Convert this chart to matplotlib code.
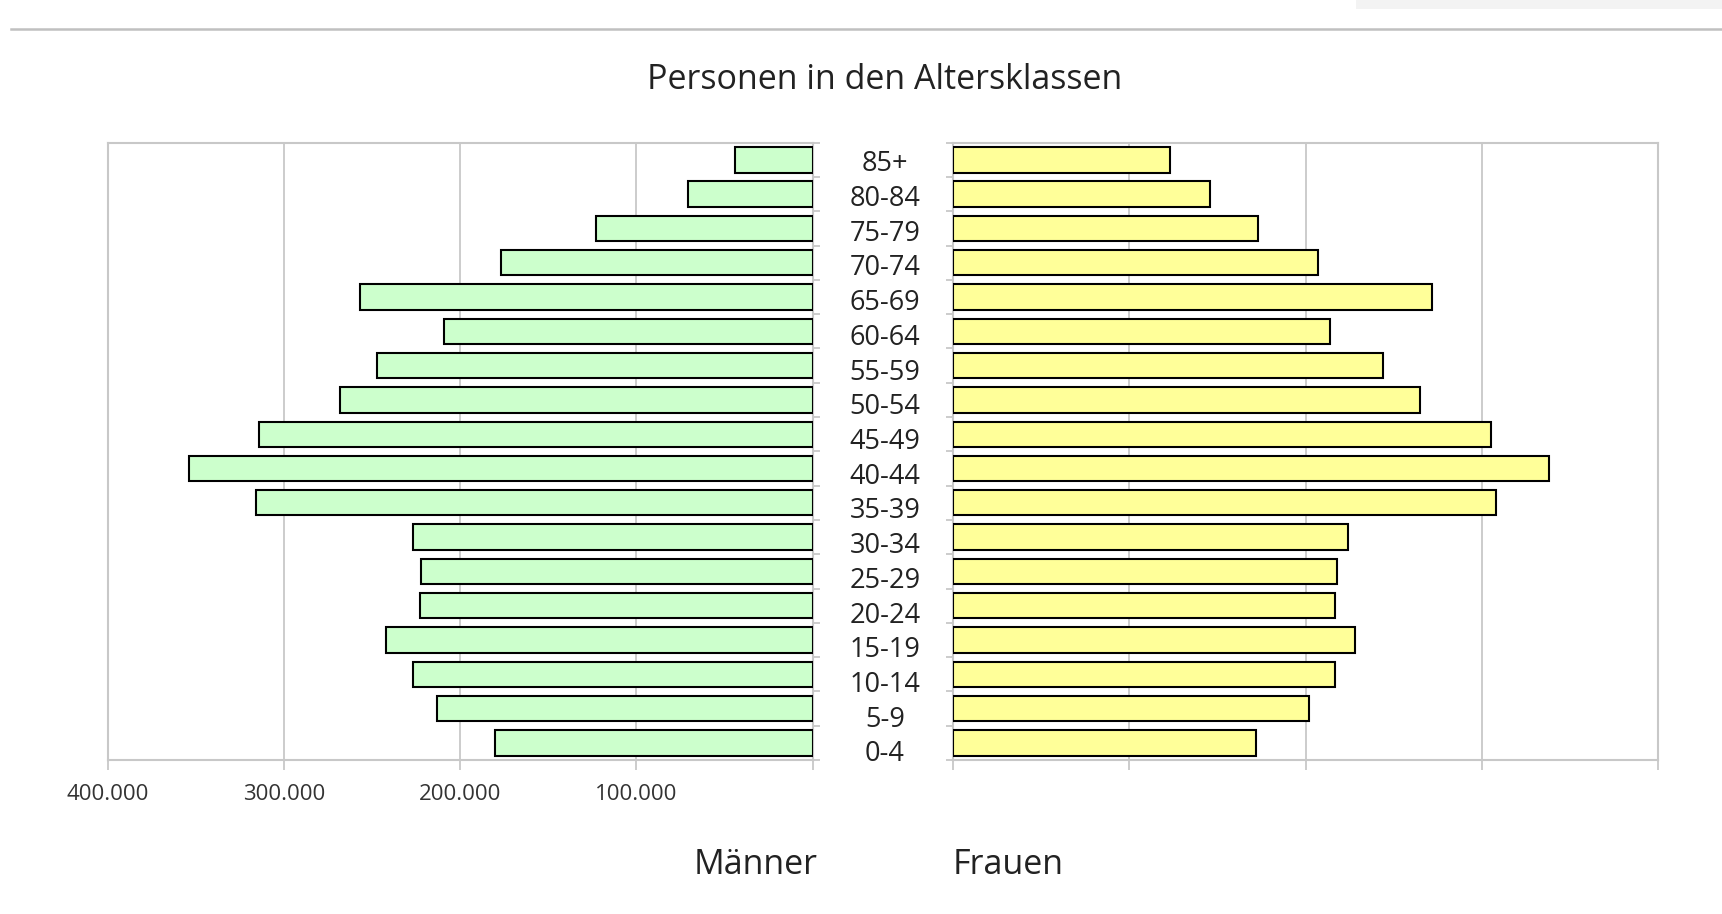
import numpy as np
import matplotlib.pyplot as plt
import matplotlib.transforms as mtransforms
from matplotlib.patches import Rectangle
from matplotlib.lines import Line2D

# Altersklassen von unten nach oben
altersklassen = ['0-4', '5-9', '10-14', '15-19', '20-24', '25-29', '30-34', '35-39', '40-44',
                 '45-49', '50-54', '55-59', '60-64', '65-69', '70-74', '75-79', '80-84', '85+']

maenner = [180000, 213000, 227000, 242000, 223000, 222000, 227000, 316000, 354000,
           314000, 268000, 247000, 209000, 257000, 177000, 123000, 71000, 44000]

frauen = [172000, 202000, 217000, 228000, 217000, 218000, 224000, 308000, 338000,
          305000, 265000, 244000, 214000, 272000, 207000, 173000, 146000, 123000]

x_ticks = [0, 100000, 200000, 300000, 400000]
x_labels = ['', '100.000', '200.000', '300.000', '400.000']

plt.rcParams['font.family'] = ['Open Sans', 'DejaVu Sans']

fig = plt.figure(figsize=(17.22, 9.14), dpi=100)

W, H = 1722, 914
oben, unten = 142.7, 760
axL = fig.add_axes([107.6 / W, 1 - unten / H, (812.7 - 107.6) / W, (unten - oben) / H])
axR = fig.add_axes([953 / W, 1 - unten / H, (1658 - 953) / W, (unten - oben) / H])

y = np.arange(len(altersklassen))
grau = '#c8c8c8'

axL.barh(y, maenner, height=0.74, color='#ccffcc', edgecolor='black', linewidth=1.5, zorder=3)
axR.barh(y, frauen, height=0.74, color='#ffff99', edgecolor='black', linewidth=1.5, zorder=3)

for ax in (axL, axR):
    ax.set_xlim(0, 400000)
    ax.set_ylim(-0.5, len(altersklassen) - 0.5)
    ax.set_xticks(x_ticks)
    ax.grid(axis='x', color=grau, linewidth=1.3, zorder=0)
    ax.set_yticks([])
    ax.set_yticks(np.arange(-0.5, len(altersklassen)), minor=True)
    for s in ax.spines.values():
        s.set_color(grau)
        s.set_linewidth(1.5)
    ax.tick_params(axis='x', length=7, width=1.3, color=grau, labelsize=16,
                   labelcolor='#333333', pad=10)
    ax.tick_params(axis='y', which='minor', length=5, width=1.3, color=grau)

axL.invert_xaxis()
axL.set_xticklabels(x_labels)
axL.yaxis.tick_right()
axR.set_xticklabels([])

# Altersklassen in der Mitte
trans = mtransforms.blended_transform_factory(fig.transFigure, axL.transData)
for yi, lab in zip(y, altersklassen):
    fig.text(885 / W, yi - 0.03 - 0.012 * (len(altersklassen) - 1 - yi), lab, transform=trans,
             ha='center', va='center_baseline', fontsize=19.5, color='#222222')

fig.text(885 / W, 1 - 80 / H, 'Personen in den Altersklassen', ha='center', va='center',
         fontsize=24.5, color='#222222')
fig.text(818 / W, 1 - 865 / H, 'Männer', ha='right', va='center', fontsize=24.5, color='#222222')
fig.text(953 / W, 1 - 865 / H, 'Frauen', ha='left', va='center', fontsize=24.5, color='#222222')

# Linie oben und graues Feld rechts oben
fig.add_artist(Line2D([11 / W, 1], [1 - 28.5 / H, 1 - 28.5 / H], color='#c0c0c0', linewidth=1.8))
fig.add_artist(Rectangle((1356 / W, 1 - 9 / H), 1 - 1356 / W, 9 / H,
                         transform=fig.transFigure, color='#f3f3f3', linewidth=0))

fig.savefig('out.png', dpi=100)
